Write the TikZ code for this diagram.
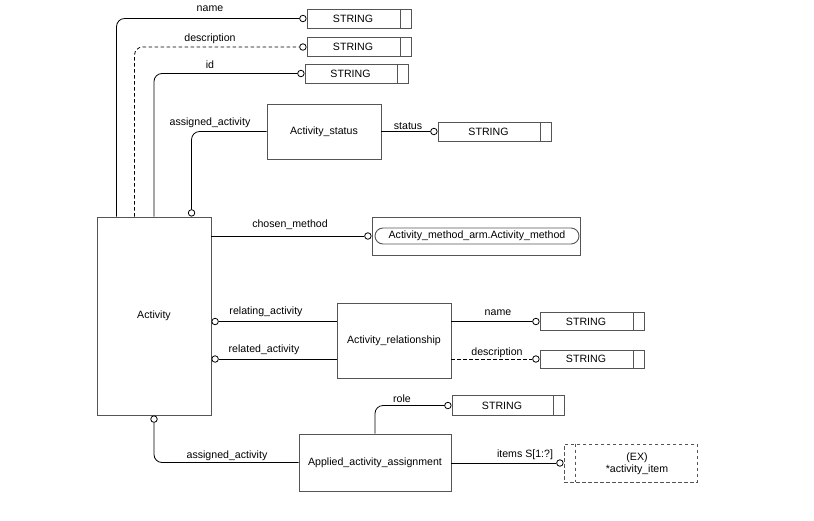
\documentclass[tikz,border=0pt]{standalone}
\usepackage{fontspec}
\setmainfont{Liberation Sans}
\usetikzlibrary{calc}
\definecolor{boxgray}{RGB}{85,85,85}
\tikzset{
  txt/.style={font=\fontsize{10.6}{12.5}\selectfont, inner sep=0pt, align=center},
  ent/.style={draw=boxgray, line width=0.9pt, rectangle, inner sep=0pt, font=\fontsize{10.6}{12.5}\selectfont},
  sep/.style={draw=boxgray, line width=0.9pt},
  conn/.style={draw=black, line width=0.8pt, rounded corners=8pt},
  dconn/.style={conn, dash pattern=on 3.5pt off 2.5pt},
  circ/.style={circle, draw=black, fill=white, line width=0.8pt, minimum size=6.5pt, inner sep=0pt},
}
\newcommand\strbox[5]{% name, center x, center y, width, height
  \node[ent, minimum width=#4pt, minimum height=#5pt] (#1) at (#2,#3) {};
  \draw[sep] ($(#1.north east)+(-11,0)$) -- ($(#1.south east)+(-11,0)$);
  \node[txt] (#1t) at ($(#1.center)+(-6,0)$) {STRING};
}
\begin{document}
\begin{tikzpicture}[x=1pt,y=-1pt]
\useasboundingbox[fill=white] (0,0) rectangle (814,520);

% entities
\node[ent, minimum width=114pt, minimum height=198pt] (act) at (154,316) {Activity};
\node[ent, minimum width=114pt, minimum height=55pt] (stat) at (324,131.5) {Activity\_status};
\node[ent, minimum width=114pt, minimum height=75pt] (ar) at (394,340.5) {Activity\_relationship};
\node[ent, minimum width=152pt, minimum height=57pt] (aa) at (375,462.5) {Applied\_activity\_assignment};

% chosen method
\node[ent, minimum width=208pt, minimum height=38pt] (cm) at (476,236) {};
\node[draw=boxgray, line width=0.9pt, rounded corners=8pt, minimum width=204pt, minimum height=16pt, inner sep=0pt, txt] (cmi) at (477,236) {Activity\_method\_arm.Activity\_method};

% extended select
\node[ent, dash pattern=on 3.5pt off 2.5pt, minimum width=133pt, minimum height=38pt] (ex) at (630.5,463) {};
\draw[sep, dash pattern=on 3.5pt off 2.5pt] ($(ex.north west)+(12,0)$) -- ($(ex.south west)+(12,0)$);
\node[txt] (ext) at (637,464) {(EX)\\*activity\_item};

% string boxes
\strbox{s1}{359}{18.5}{104}{19}
\strbox{s2}{359}{47}{104}{19}
\strbox{s3}{356.5}{73.5}{103}{19}
\strbox{s4}{494.5}{131.5}{113}{19}
\strbox{s5}{592}{321.5}{104}{18}
\strbox{s6}{592}{359}{104}{18}
\strbox{s7}{508}{405.5}{112}{20}

% circles
\node[circ, anchor=east] (c1) at (s1.west) {};
\node[circ, anchor=east] (c2) at (s2.west) {};
\node[circ, anchor=east] (c3) at (s3.west) {};
\node[circ, anchor=south] (c4) at ($(act.north west)+(95,0)$) {};
\node[circ, anchor=east] (c5) at (s4.west) {};
\node[circ, anchor=east] (c6) at (cm.west) {};
\node[circ, anchor=west] (c7) at (act.east |- 0,321.5) {};
\node[circ, anchor=west] (c8) at (act.east |- 0,359) {};
\node[circ, anchor=east] (c9) at (s5.west) {};
\node[circ, anchor=east] (c10) at (s6.west) {};
\node[circ, anchor=north] (c11) at (act.south) {};
\node[circ, anchor=east] (c12) at (s7.west) {};
\node[circ, anchor=east] (c13) at (ex.west) {};

% connectors
\draw[conn] ($(act.north west)+(20,0)$) |- (c1.west);
\draw[dconn] ($(act.north west)+(38,0)$) |- (c2.west);
\draw[conn] (act.north) |- (c3.west);
\draw[conn] (stat.west) -| (c4.north);
\draw[conn] (stat.east) -- (c5.west);
\draw[conn] (c6.west -| act.east) -- (c6.west);
\draw[conn] (c7.east) -- (c7.east -| ar.west);
\draw[conn] (c8.east) -- (c8.east -| ar.west);
\draw[conn] (c9.west -| ar.east) -- (c9.west);
\draw[dconn] (c10.west -| ar.east) -- (c10.west);
\draw[conn] (aa.west) -| (c11.south);
\draw[conn] (aa.north) |- (c12.west);
\draw[conn] (c13.west -| aa.east) -- (c13.west);

% labels
\node[txt] (l1) at (210,9) {name};
\node[txt] (l2) at (210,39) {description};
\node[txt] (l3) at (210,65) {id};
\node[txt] (l4) at (210,123) {assigned\_activity};
\node[txt] (l5) at (408,126.5) {status};
\node[txt] (l6) at (290,225) {chosen\_method};
\node[txt] (l7) at (266,312) {relating\_activity};
\node[txt] (l8) at (264,350) {related\_activity};
\node[txt] (l9) at (498,313) {name};
\node[txt] (l10) at (497,353) {description};
\node[txt] (l11) at (402,399) {role};
\node[txt] (l12) at (227,456) {assigned\_activity};
\node[txt] (l13) at (525,455) {items S[1:?]};
\end{tikzpicture}
\end{document}
